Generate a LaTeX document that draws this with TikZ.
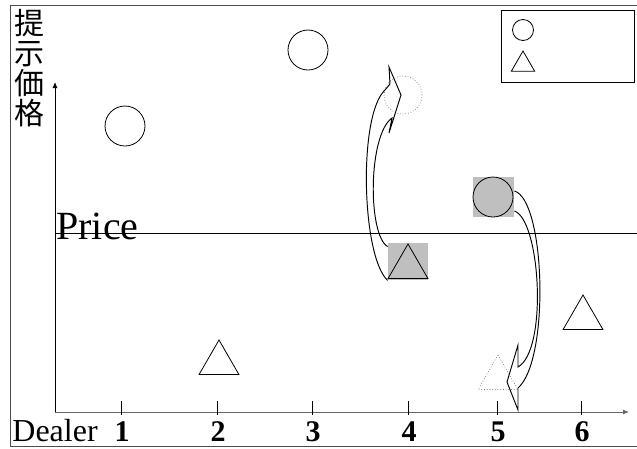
\documentclass[tikz,border=0pt]{standalone}
\usepackage{fontspec}
\setmainfont{Liberation Serif}
\newfontfamily\jpfont{Noto Sans CJK JP}
\usetikzlibrary{arrows.meta, calc, positioning, shapes.geometric}
\tikzset{
  ring/.style={circle, draw, minimum size=40pt, inner sep=0pt},
  tri/.style={regular polygon, regular polygon sides=3, draw, minimum size=46pt, inner sep=0pt},
  greybox/.style={rectangle, fill=black!25, inner sep=0pt},
  bend arrow/.style={draw, line width=0.95pt, line join=miter},
  ghost/.style={draw=black!55, dotted, line width=0.7pt},
  axis tip/.style={-{Latex[length=6pt,width=5pt]}},
}

\begin{document}
\begin{tikzpicture}[x=1pt, y=-1pt, line width=0.8pt]
  \useasboundingbox (0,0) rectangle (637,448);
  \draw[black!70] (637,5) -- (10,5) -- (10,446) -- (637,446);
  \node[font=\jpfont\fontsize{30}{30}\selectfont, align=center, inner sep=0pt] (ylab) at (29,68) {提\\示\\価\\格};
  \coordinate (origin) at (55,412);
  \draw[axis tip] (origin) -- ++(0,-330);
  \draw[axis tip, black!60] (origin) -- ++(574,0);
  \foreach \x/\n in {121/1,217/2,312/3,408/4,497/5,581/6}{
    \draw (\x,401) -- (\x,415);
    \node[font=\bfseries\fontsize{30}{30}\selectfont, inner sep=0pt] (d\n) at (\x+1,432) {\n};
  }
  \node[font=\fontsize{32}{32}\selectfont, anchor=base west, inner sep=0pt] (dealer) at (12,441) {Dealer};
  \draw (55,233) -- (637,233);
  \node[font=\fontsize{40}{40}\selectfont, anchor=base west, inner sep=0pt] (price) at (56,239) {Price};

  \node[draw, minimum width=133pt, minimum height=72pt, inner sep=0pt, anchor=north west] (legend) at (501,10) {};
  \node[ring, minimum size=21pt] (legc) at (523,30) {};
  \node[tri, minimum size=27pt] (legt) at (523,64.5) {};

  \node[ring] (c1) at (125,126) {};
  \node[ring] (c3) at (308,50) {};
  \node[ring, ghost, minimum size=38pt] (c4) at (403,95) {};
  \node[greybox, minimum width=41pt, minimum height=40pt] (sq5) at (493.5,197) {};
  \node[ring] (c5) at (493,197) {};
  \node[tri] (t2) at (219,363) {};
  \node[tri] (t6) at (583,318) {};
  \node[greybox, minimum width=40pt, minimum height=37pt] (sq4) at (408,261.5) {};
  \node[tri] (t4) at (408,267) {};
  \node[tri, ghost] (t5) at (498,378) {};

  \draw[bend arrow] (sq4.south west) .. controls +(-26,-24) and +(-27,25) .. ($(c4)+(-18,-5)$) -- ++(5,-6) -- ++(-1,-17) -- ++(12,28) -- ++(-12,38) -- ++(3,-15) .. controls +(-24,17) and +(-20,-12) .. ($(sq4.north west)+(0,4)$);
  \draw[bend arrow] ($(sq5.east)+(0,-6)$) .. controls +(31,9) and +(32,-28) .. ($(t5)+(20,10)$) -- ++(0,22) -- ++(-11,-28) -- ++(11,-37) -- ++(0,22) .. controls +(30,-17) and +(26,9) .. ($(sq5.east)+(0,14)$);
\end{tikzpicture}
\end{document}
